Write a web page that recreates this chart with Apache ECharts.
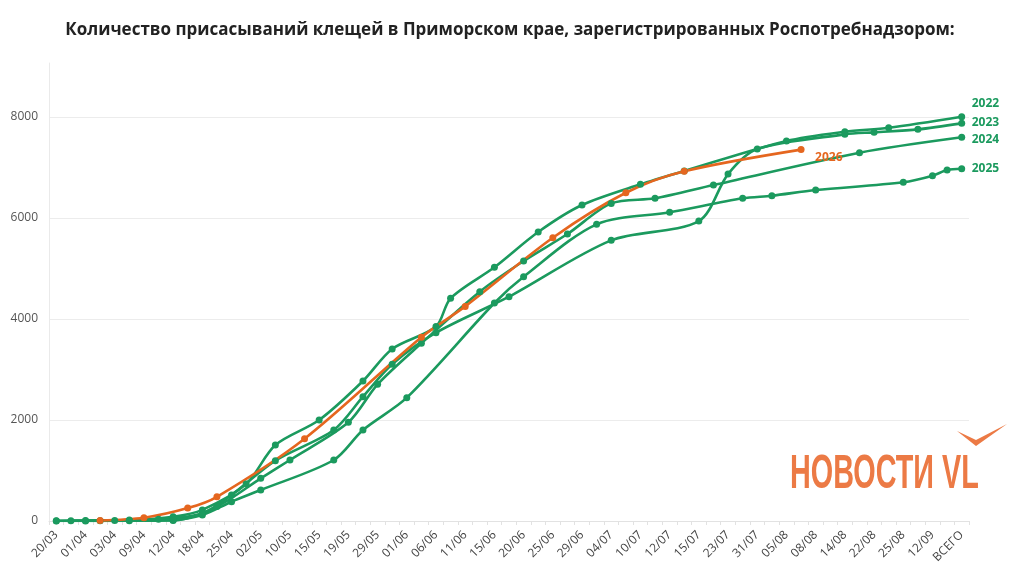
<!DOCTYPE html>
<html>
<head>
<meta charset="utf-8">
<script src="https://cdn.jsdelivr.net/npm/echarts@6/dist/echarts.min.js"></script>
<style>
	html, body { margin: 0; padding: 0; background: #fff; }
	#chart { width: 1020px; height: 588px; }
</style>
</head>
<body>
<div id="chart"></div>
<script>
var dates = ['20/03', '27/03', '01/04', '02/04', '03/04', '06/04', '09/04', '10/04', '12/04', '15/04',
	'18/04', '22/04', '25/04', '29/04', '02/05', '06/05', '10/05', '13/05', '15/05', '17/05',
	'19/05', '23/05', '29/05', '31/05', '01/06', '04/06', '06/06', '08/06', '11/06', '13/06',
	'15/06', '18/06', '20/06', '22/06', '25/06', '27/06', '29/06', '01/07', '04/07', '08/07',
	'10/07', '11/07', '12/07', '13/07', '15/07', '19/07', '23/07', '27/07', '31/07', '03/08',
	'05/08', '06/08', '08/08', '11/08', '14/08', '18/08', '22/08', '23/08', '25/08', '01/09',
	'12/09', '15/09', 'ВСЕГО'];

var y2022 = [['20/03', 5], ['01/04', 10], ['06/04', 20], ['12/04', 85], ['18/04', 220], ['29/04', 733],
	['06/05', 1505], ['15/05', 2000], ['23/05', 2772], ['31/05', 3406], ['06/06', 3850], ['08/06', 4410],
	['15/06', 5024], ['22/06', 5723], ['29/06', 6257], ['10/07', 6667], ['13/07', 6931], ['05/08', 7525],
	['14/08', 7709], ['23/08', 7788], ['ВСЕГО', 8006]];

var y2023 = [['27/03', 5], ['03/04', 10], ['10/04', 35], ['18/04', 150], ['25/04', 515], ['06/05', 1195],
	['17/05', 1802], ['23/05', 2462], ['31/05', 3103], ['06/06', 3729], ['18/06', 4442], ['04/07', 5558],
	['15/07', 5940], ['23/07', 6870], ['31/07', 7366], ['14/08', 7657], ['22/08', 7697], ['01/09', 7756],
	['ВСЕГО', 7875]];

var y2024 = [['20/03', 0], ['02/04', 5], ['12/04', 10], ['22/04', 285], ['02/05', 845], ['10/05', 1208],
	['19/05', 1954], ['29/05', 2706], ['04/06', 3518], ['13/06', 4541], ['20/06', 5148], ['27/06', 5683],
	['04/07', 6290], ['11/07', 6390], ['19/07', 6653], ['18/08', 7293], ['ВСЕГО', 7598]];

var y2025 = [['01/04', 0], ['06/04', 5], ['12/04', 20], ['18/04', 119], ['25/04', 382], ['02/05', 614],
	['17/05', 1208], ['23/05', 1802], ['01/06', 2442], ['15/06', 4317], ['20/06', 4838], ['01/07', 5875],
	['12/07', 6113], ['27/07', 6390], ['03/08', 6442], ['08/08', 6554], ['25/08', 6707], ['12/09', 6838],
	['15/09', 6950], ['ВСЕГО', 6976]];

var y2026 = [['02/04', 10], ['09/04', 65], ['15/04', 255], ['22/04', 480], ['13/05', 1630], ['04/06', 3640],
	['11/06', 4250], ['25/06', 5610], ['08/07', 6500], ['13/07', 6925], ['06/08', 7355]];

var yMax = 9070;
var yStep = 2000;

var green = '#1b9a5e',
	orange = '#e5661f',
	logoColor = '#ec7a45';

function makeLine(name, data, color, offset) {
	return {
		name: name,
		type: 'line',
		data: data,
		connectNulls: true,
		smooth: 0.3,
		symbol: 'circle',
		symbolSize: 7,
		lineStyle: { color: color, width: 2.6 },
		itemStyle: { color: color },
		endLabel: {
			show: true,
			formatter: '{a}',
			color: color,
			fontFamily: 'Open Sans',
			fontWeight: 'bold',
			fontSize: 12,
			offset: offset
		},
		emphasis: { disabled: true }
	};
}

var chart = echarts.init(document.getElementById('chart'), null, { renderer: 'canvas' });

var option = {
	backgroundColor: '#fff',
	animation: false,
	title: {
		text: 'Количество присасываний клещей в Приморском крае, зарегистрированных Роспотребнадзором:',
		left: 'center',
		top: 17,
		textStyle: {
			fontFamily: 'Open Sans',
			fontWeight: 'bold',
			fontSize: 17,
			color: '#222'
		}
	},
	grid: {
		left: 49,
		right: 51,
		top: 63,
		bottom: 67
	},
	xAxis: {
		type: 'category',
		data: dates,
		boundaryGap: true,
		axisLine: { lineStyle: { color: '#e2e2e2' } },
		axisTick: { show: true, interval: 0, length: 4, lineStyle: { color: '#e2e2e2' } },
		axisLabel: {
			interval: 1,
			rotate: 45,
			margin: 12,
			fontFamily: 'Open Sans',
			fontSize: 12,
			color: '#444'
		},
		splitLine: { show: false }
	},
	yAxis: {
		type: 'value',
		min: 0,
		max: yMax,
		interval: yStep,
		axisLine: { show: true, lineStyle: { color: '#eaeaea' } },
		axisTick: { show: false },
		axisLabel: {
			showMaxLabel: false,
			margin: 11,
			fontFamily: 'Open Sans',
			fontSize: 12,
			color: '#555',
			formatter: function(v) {
				return String(v);
			}
		},
		//last line is the top of the axis, hide it
		splitLine: {
			show: true,
			lineStyle: { color: ['#ececec', '#ececec', '#ececec', '#ececec', '#ececec', 'rgba(0,0,0,0)'] }
		}
	},
	graphic: [{
		type: 'text',
		x: 790,
		y: 451,
		scaleX: 0.6,
		z: 0,
		style: {
			text: 'НОВОСТИ VL',
			fontFamily: 'Liberation Sans',
			fontWeight: 'bold',
			fontSize: 48,
			fill: logoColor
		}
	}, {
		type: 'polygon',
		z: 0,
		shape: { points: [[957, 431], [976, 446], [1007, 424], [976, 440]] },
		style: { fill: logoColor }
	}],
	series: [
		makeLine('2022', y2022, green, [2, -13]),
		makeLine('2023', y2023, green, [2, -1]),
		makeLine('2024', y2024, green, [2, 2]),
		makeLine('2025', y2025, green, [2, 0]),
		makeLine('2026', y2026, orange, [6, 8])
	]
};

chart.setOption(option);
</script>
</body>
</html>
